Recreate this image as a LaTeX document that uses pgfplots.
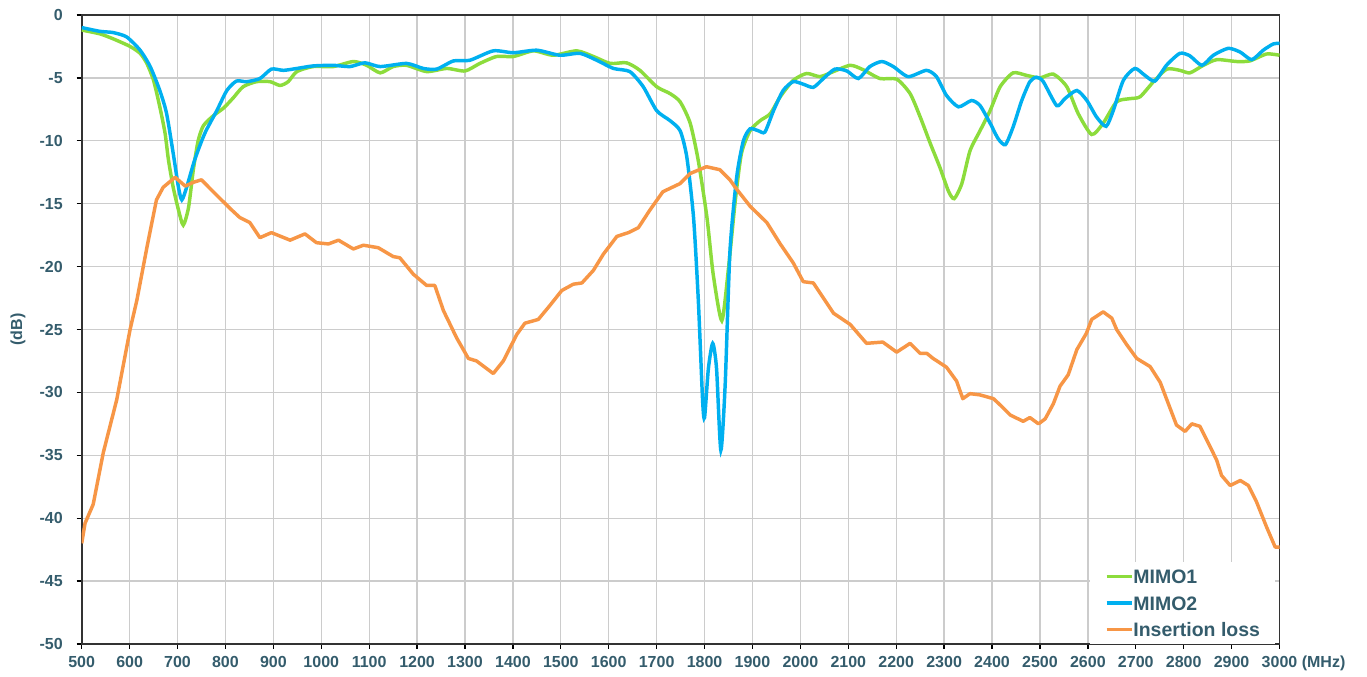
\documentclass[border=0pt]{standalone}
\usepackage{fontspec}
\setmainfont{Liberation Sans}
\usepackage{pgfplots}
\usepackage{pgfplotstable}
\pgfplotsset{compat=1.18}
\definecolor{labelcol}{RGB}{52,92,108}
\definecolor{mimoone}{HTML}{8CDC3C}
\definecolor{mimotwo}{HTML}{00B0F0}
\definecolor{insloss}{HTML}{F79646}
\definecolor{gridcol}{HTML}{CCCCCC}

\pgfplotstableread{
x y
500 -1.2
538 -1.5
566 -1.9
601 -2.5
622 -3.05
636 -3.85
650 -5.2
663 -7.3
674 -9.4
681 -11.5
691 -13.7
702 -15.5
712 -16.7
723 -15.3
733 -12.3
743 -10.0
754 -8.8
775 -8.0
796 -7.4
816 -6.6
837 -5.7
865 -5.3
893 -5.3
914 -5.6
931 -5.3
949 -4.5
983 -4.1
1025 -4.1
1067 -3.7
1095 -4.0
1123 -4.6
1150 -4.1
1178 -4.0
1220 -4.5
1262 -4.25
1300 -4.45
1331 -3.85
1366 -3.3
1401 -3.3
1443 -2.85
1484 -3.2
1533 -2.85
1568 -3.3
1603 -3.85
1637 -3.8
1665 -4.4
1700 -5.7
1728 -6.25
1749 -6.9
1770 -8.6
1787 -11.6
1805 -16.1
1818 -20.6
1836 -24.3
1850 -20.1
1864 -14.8
1877 -11.0
1895 -9.2
1916 -8.4
1937 -7.85
1958 -6.5
1985 -5.2
2013 -4.65
2041 -4.9
2069 -4.5
2104 -4.0
2131 -4.35
2166 -5.05
2201 -5.1
2229 -6.25
2250 -8.1
2271 -10.2
2291 -12.1
2309 -14.0
2321 -14.6
2337 -13.4
2354 -10.8
2375 -9.2
2396 -7.6
2417 -5.7
2444 -4.6
2472 -4.8
2500 -5.0
2528 -4.7
2556 -5.7
2580 -7.85
2608 -9.5
2632 -8.6
2660 -6.9
2688 -6.65
2709 -6.5
2737 -5.3
2765 -4.3
2792 -4.4
2813 -4.6
2841 -4.0
2869 -3.55
2911 -3.7
2938 -3.65
2973 -3.1
3000 -3.2
}\mimoA

\pgfplotstableread{
x y
500 -1.0
538 -1.3
566 -1.4
594 -1.75
622 -2.8
643 -4.1
663 -6.0
677 -7.8
691 -11.0
702 -13.7
709 -14.7
719 -13.7
736 -11.5
757 -9.4
782 -7.6
803 -6.0
823 -5.25
844 -5.3
872 -5.05
896 -4.3
921 -4.4
949 -4.25
983 -4.05
1025 -4.0
1060 -4.1
1091 -3.8
1123 -4.1
1178 -3.85
1213 -4.25
1241 -4.3
1276 -3.65
1310 -3.6
1359 -2.85
1401 -3.0
1450 -2.8
1498 -3.2
1540 -3.05
1575 -3.6
1610 -4.25
1644 -4.5
1672 -5.7
1700 -7.6
1728 -8.4
1749 -9.2
1763 -11.3
1777 -16.1
1787 -22.7
1796 -30.7
1800 -32.0
1808 -28.1
1817 -26.1
1825 -28.1
1834 -34.6
1843 -29.4
1853 -18.8
1867 -12.9
1881 -10.0
1895 -9.05
1912 -9.2
1926 -9.3
1944 -7.6
1964 -6.0
1985 -5.3
2006 -5.5
2027 -5.75
2048 -5.05
2072 -4.3
2097 -4.45
2121 -5.05
2145 -4.1
2170 -3.7
2194 -4.1
2225 -4.9
2263 -4.4
2284 -4.9
2305 -6.4
2330 -7.3
2357 -6.8
2375 -7.2
2396 -8.6
2413 -9.85
2428 -10.3
2444 -8.9
2462 -6.8
2479 -5.3
2493 -4.95
2507 -5.3
2535 -7.2
2552 -6.65
2577 -6.0
2598 -6.8
2618 -8.1
2638 -8.85
2653 -7.6
2674 -5.2
2698 -4.25
2719 -4.8
2740 -5.25
2764 -4.0
2792 -3.05
2813 -3.25
2838 -4.0
2862 -3.2
2893 -2.65
2918 -2.95
2942 -3.55
2966 -2.8
2987 -2.3
3000 -2.25
}\mimoB

\pgfplotstableread{
x y
500 -42.0
507 -40.4
524 -38.9
545 -34.8
573 -30.6
601 -25.0
615 -22.7
636 -18.5
656 -14.7
670 -13.7
695 -12.9
716 -13.6
733 -13.3
750 -13.1
768 -13.8
789 -14.6
813 -15.5
830 -16.1
851 -16.5
872 -17.7
896 -17.3
935 -17.9
966 -17.4
990 -18.1
1015 -18.2
1036 -17.9
1067 -18.6
1088 -18.3
1119 -18.5
1150 -19.2
1164 -19.3
1192 -20.6
1220 -21.5
1237 -21.5
1255 -23.5
1283 -25.7
1307 -27.3
1324 -27.5
1359 -28.5
1380 -27.5
1408 -25.4
1425 -24.5
1453 -24.2
1477 -23.1
1502 -21.9
1526 -21.4
1544 -21.3
1568 -20.3
1589 -19.0
1617 -17.6
1641 -17.3
1662 -16.9
1686 -15.5
1713 -14.05
1749 -13.4
1770 -12.6
1804 -12.06
1832 -12.3
1853 -13.1
1864 -13.7
1895 -15.2
1930 -16.5
1958 -18.2
1985 -19.7
2006 -21.2
2027 -21.3
2048 -22.5
2069 -23.7
2104 -24.6
2138 -26.1
2172 -26.0
2201 -26.8
2229 -26.1
2250 -26.9
2264 -26.9
2277 -27.3
2305 -28.0
2326 -29.1
2339 -30.5
2354 -30.1
2375 -30.2
2403 -30.5
2417 -31.0
2438 -31.8
2465 -32.3
2479 -32.0
2497 -32.5
2511 -32.1
2528 -30.9
2542 -29.5
2559 -28.6
2577 -26.6
2597 -25.3
2608 -24.2
2632 -23.6
2650 -24.1
2660 -25.0
2681 -26.2
2702 -27.3
2730 -27.95
2751 -29.2
2768 -30.9
2785 -32.6
2803 -33.1
2817 -32.5
2834 -32.7
2855 -34.3
2869 -35.4
2879 -36.6
2897 -37.4
2918 -37.0
2935 -37.4
2952 -38.7
2973 -40.7
2991 -42.3
3000 -42.3
}\insloss

\begin{document}
\begin{tikzpicture}
\path[use as bounding box] (-61.275pt,-24.75pt) rectangle (963.98pt,483pt);
\begin{axis}[
  scale only axis,
  width=898.35pt, height=471.75pt,
  xmin=500, xmax=3000, ymin=-50, ymax=0,
  xtick={500,600,...,3000}, ytick={-50,-45,...,0},
  grid=major,
  major grid style={draw=gridcol, line width=1pt},
  axis line style={draw=black!80, line width=1.4pt},
  tick pos=left, tick align=outside,
  major tick length=3.75pt,
  tick style={black, line width=1pt},
  /pgf/number format/assume math mode=true,
  /pgf/number format/1000 sep={},
  tick label style={font=\fontsize{12}{14}\selectfont\bfseries, text=labelcol},
  xticklabel shift=2pt,
  yticklabel shift=7pt,
  ylabel={(dB)},
  ylabel style={at={(axis description cs:-0.0532,0.5)}, anchor=center, rotate=0, font=\fontsize{12}{14}\selectfont\bfseries, text=labelcol},
  xlabel={(MHz)},
  xlabel style={at={(axis description cs:1.0368,0)}, anchor=north, yshift=-5.75pt, inner sep=0.333em, font=\fontsize{12}{14}\selectfont\bfseries, text=labelcol},
  legend image code/.code={\draw[#1] (0pt,0pt) -- (18.75pt,0pt);},
  legend style={at={(axis description cs:0.8418,0)}, anchor=south west,
    draw=none, fill=white, font=\fontsize{14.6}{16}\selectfont\bfseries, text=labelcol,
    inner xsep=11pt, inner ysep=5.25pt, row sep=9.5pt,
    nodes={inner sep=0pt, text height=10.5pt, text depth=0pt, anchor=west}},
  legend cell align=left,
]
\addplot[mimoone, line width=2.6pt, smooth, tension=0.4] table[x=x,y=y] {\mimoA};
\addlegendentry{MIMO1}
\addplot[mimotwo, line width=2.6pt, smooth, tension=0.4] table[x=x,y=y] {\mimoB};
\addlegendentry{MIMO2}
\addplot[insloss, line width=2.6pt, line join=round] table[x=x,y=y] {\insloss};
\addlegendentry{Insertion loss}
\end{axis}
\end{tikzpicture}
\end{document}
